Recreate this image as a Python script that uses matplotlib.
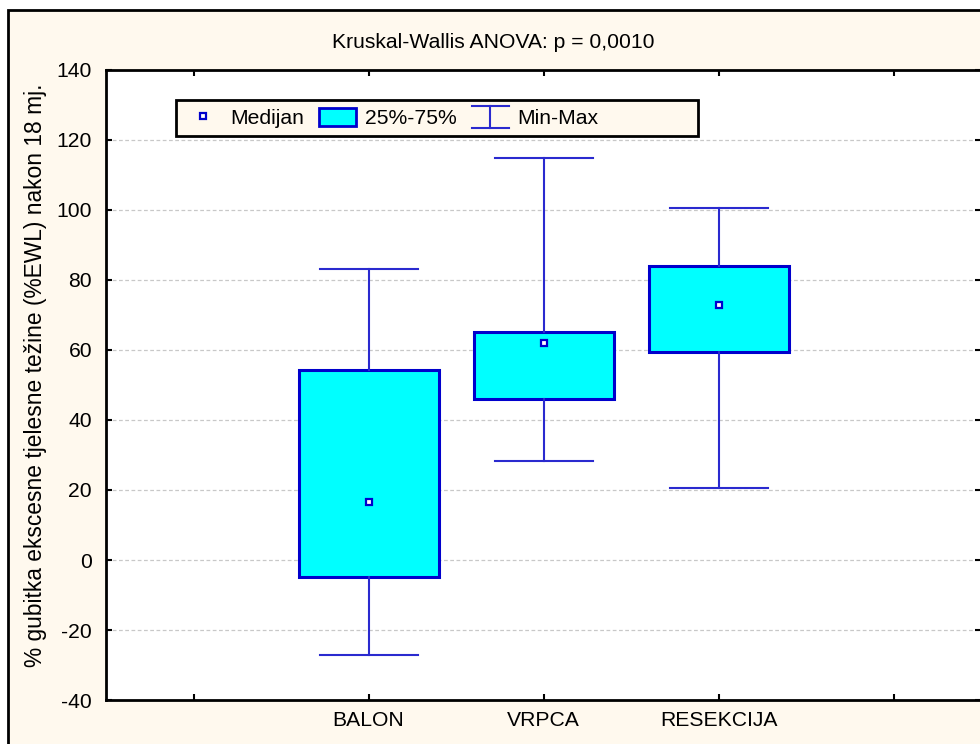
import matplotlib.pyplot as plt
from matplotlib.patches import Patch, Rectangle
from matplotlib.lines import Line2D
from matplotlib.legend_handler import HandlerBase

plt.rcParams['font.family'] = ['Liberation Sans', 'DejaVu Sans']
plt.rcParams['axes.unicode_minus'] = False

# podaci
groups = ['BALON', 'VRPCA', 'RESEKCIJA']
positions = [1, 2, 3]
mins = [-27.1, 28.3, 20.6]
q1s = [-4.9, 46.0, 59.4]
medians = [16.6, 62.0, 72.9]
q3s = [54.3, 65.1, 84.0]
maxs = [83.1, 114.9, 100.6]

yticks = [-40, -20, 0, 20, 40, 60, 80, 100, 120, 140]

cream = '#FFF9EE'
blue = '#0000CC'
wblue = '#2A2ACF'
cyan = '#00FFFF'
fs = 15.2


class HandlerMinMax(HandlerBase):
    # I-beam simbol za Min-Max u legendi
    def create_artists(self, legend, orig_handle, xdescent, ydescent,
                       width, height, fontsize, trans):
        x0 = -xdescent
        xc = x0 + width / 2
        y0 = -ydescent - 0.12 * height
        y1 = -ydescent + 1.12 * height
        kw = dict(color=wblue, lw=1.5, transform=trans)
        return [Line2D([x0, x0 + width], [y0, y0], **kw),
                Line2D([x0, x0 + width], [y1, y1], **kw),
                Line2D([xc, xc], [y0, y1], **kw)]


fig = plt.figure(figsize=(9.8, 7.44), dpi=100, facecolor='white')
fig.patches.append(Rectangle((8 / 980, -0.02), 1.05, 1.02 - 10 / 744,
                             transform=fig.transFigure, facecolor=cream,
                             edgecolor='black', lw=2, zorder=-10))

ax = fig.add_axes([106 / 980, 44 / 744, 875 / 980, 630 / 744])
ax.set_facecolor('white')

stats = []
for i in range(len(groups)):
    stats.append(dict(med=medians[i], q1=q1s[i], q3=q3s[i],
                      whislo=mins[i], whishi=maxs[i], fliers=[]))

ax.bxp(stats, positions=positions, widths=0.8, capwidths=0.56,
       patch_artist=True, showfliers=False,
       boxprops=dict(facecolor=cyan, edgecolor=blue, lw=2.2),
       whiskerprops=dict(color=wblue, lw=1.5),
       capprops=dict(color=wblue, lw=1.5),
       medianprops=dict(visible=False))
ax.plot(positions, medians, 's', ms=5, mfc='white', mec=blue, mew=1.6,
        zorder=5)

ax.set_xlim(-0.5, 4.5)
ax.set_ylim(-40, 140)
ax.set_yticks(yticks)
ax.set_xticks([0, 1, 2, 3, 4])
ax.set_xticklabels(['', 'BALON', 'VRPCA', 'RESEKCIJA', ''])
ax.tick_params(axis='both', direction='in', length=4, width=1.5,
               labelsize=fs, top=True, right=True)
ax.tick_params(axis='x', pad=8)
ax.tick_params(axis='y', pad=10)
ax.grid(axis='y', linestyle=(0, (3, 2)), color='#C8C8C8', lw=0.9)
ax.set_axisbelow(True)
for s in ax.spines.values():
    s.set_linewidth(2)

ax.set_ylabel('% gubitka ekscesne tjelesne težine (%EWL) nakon 18 mj.',
              fontsize=16.4)
ax.yaxis.set_label_coords(-0.0674, 0.516)
fig.text(0.503, 1 - 42 / 744, 'Kruskal-Wallis ANOVA: p = 0,0010',
         ha='center', va='center', fontsize=fs)

# okvir legende (STATISTICA ostavlja prazan prostor desno)
ax.add_patch(Rectangle((70 / 875, 564 / 630), 522 / 875, 36 / 630,
                       transform=ax.transAxes, facecolor=cream,
                       edgecolor='black', lw=2, zorder=4.5))

handles = [Line2D([], [], ls='none', marker='s', ms=5, mfc='white',
                  mec=blue, mew=1.6),
           Patch(facecolor=cyan, edgecolor=blue, lw=2),
           Line2D([], [])]
leg = ax.legend(handles, ['Medijan', '25%-75%', 'Min-Max'], ncol=3,
                loc='center left', bbox_to_anchor=(79 / 875, 582 / 630),
                fontsize=fs, frameon=False, borderpad=0,
                handlelength=1.75, handleheight=0.95, handletextpad=0.4,
                columnspacing=0.72, borderaxespad=0,
                handler_map={handles[2]: HandlerMinMax()})

fig.savefig('out.png', dpi=100, facecolor=fig.get_facecolor())
